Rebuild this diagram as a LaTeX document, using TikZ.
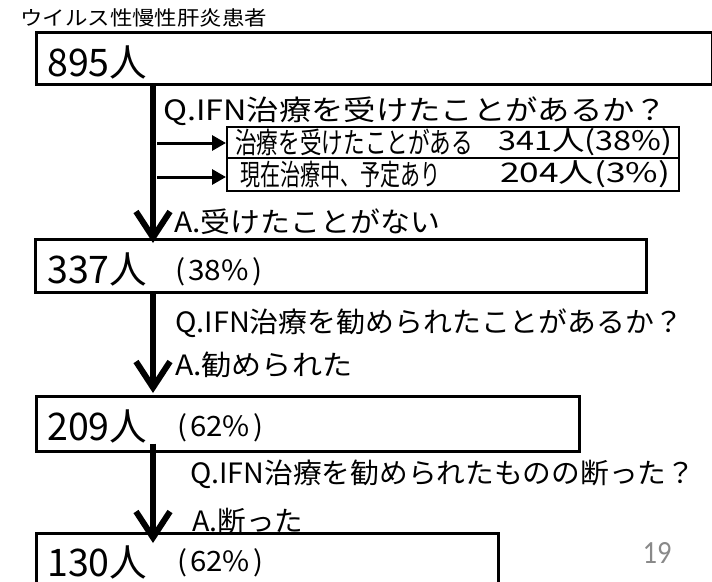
\documentclass[tikz,border=0pt]{standalone}
\usepackage{fontspec}
\setmainfont{Noto Sans CJK JP}
\newfontfamily\latofont{Lato}
\usetikzlibrary{arrows.meta,calc}
\definecolor{pagegray}{HTML}{898989}
\newcommand\fitt[2]{\sbox0{#2}\pgfmathsetmacro\fitsx{#1/\the\wd0}\scalebox{\fitsx}[1]{\usebox0}}
\newcommand\fs[1]{\fontsize{#1}{#1}\selectfont}
\newcommand\pct[1]{(\hspace{3pt}#1\hspace{3pt})}
\begin{document}
\begin{tikzpicture}[x=1pt,y=-1pt,
  box/.style={draw, line width=2.5pt, rectangle, inner sep=0pt, anchor=north west},
  subbox/.style={draw, line width=2pt, rectangle, inner sep=0pt, anchor=north west},
  txt/.style={anchor=west, inner sep=0pt},
  bigarrow/.style={line width=6pt, -{Straight Barb[length=26pt,width=34pt]}},
  smallarrow/.style={line width=3pt, -{Triangle[length=14pt,width=15pt]}},
]
\useasboundingbox (0,0) rectangle (712,581);
% boxes
\node[box, minimum width=676pt, minimum height=52pt] (b1) at (35,31) {};
\node[box, minimum width=611pt, minimum height=53pt] (b2) at (34,238) {};
\node[box, minimum width=543pt, minimum height=55pt] (b3) at (35,395) {};
\node[box, minimum width=462pt, minimum height=70pt] (b4) at (35,532) {};
\node[subbox, minimum width=452pt, minimum height=31pt] (sub1) at (226,126) {};
\node[subbox, minimum width=452pt, minimum height=33pt] (sub2) at (226,157) {};
% texts
\node[txt] (title) at (20,18) {\fs{20}\fitt{247}{ウイルス性慢性肝炎患者}};
\node[txt] (n1) at (47,62.5) {\fs{38}\fitt{100}{895人}};
\node[txt] (q1) at (163,111) {\fs{28}\fitt{504}{Q.IFN治療を受けたことがあるか？}};
\node[txt] (s1l) at (235,142.5) {\fs{29}\fitt{238}{治療を受けたことがある}};
\node[txt] (s1r) at (498,142.5) {\fs{27}\fitt{174}{341人(38\%)}};
\node[txt] (s2l) at (240,174.5) {\fs{29}\fitt{200}{現在治療中、予定あり}};
\node[txt] (s2r) at (500,174.5) {\fs{27}\fitt{170}{204人(3\%)}};
\node[txt] (a1) at (174,222) {\fs{28}\fitt{266}{A.受けたことがない}};
\node[txt] (n2) at (47,269) {\fs{38}\fitt{100}{337人}};
\node[txt] (p2) at (175,272) {\fs{28}\fitt{87}{\pct{38\%}}};
\node[txt] (q2) at (175,323) {\fs{28}\fitt{508}{Q.IFN治療を勧められたことがあるか？}};
\node[txt] (a2) at (175,365) {\fs{28}\fitt{177}{A.勧められた}};
\node[txt] (n3) at (47,426) {\fs{38}\fitt{100}{209人}};
\node[txt] (p3) at (177,428) {\fs{28}\fitt{86}{\pct{62\%}}};
\node[txt] (q3) at (190,474) {\fs{28}\fitt{505}{Q.IFN治療を勧められたものの断った？}};
\node[txt] (a3) at (192,521) {\fs{28}\fitt{111}{A.断った}};
\node[txt] (n4) at (47,562) {\fs{38}\fitt{100}{130人}};
\node[txt] (p4) at (177,563) {\fs{28}\fitt{86}{\pct{62\%}}};
\node[txt, text=pagegray] (pg) at (643,553) {\latofont\fs{29}\fitt{29}{19}};
% arrows
\coordinate (t1) at (153,243);
\coordinate (t2) at (153,393);
\coordinate (t3) at (153,543);
\draw[bigarrow] (t1 |- b1.south) -- (t1);
\draw[bigarrow] (t2 |- b2.south) -- (t2);
\draw[bigarrow] ($(t3 |- b3.south)+(0,-9)$) -- (t3);
\coordinate (sa1) at (157,143);
\coordinate (sa2) at (157,177);
\draw[smallarrow] (sa1) -- (sa1 -| sub1.west);
\draw[smallarrow] (sa2) -- (sa2 -| sub2.west);
\end{tikzpicture}
\end{document}
